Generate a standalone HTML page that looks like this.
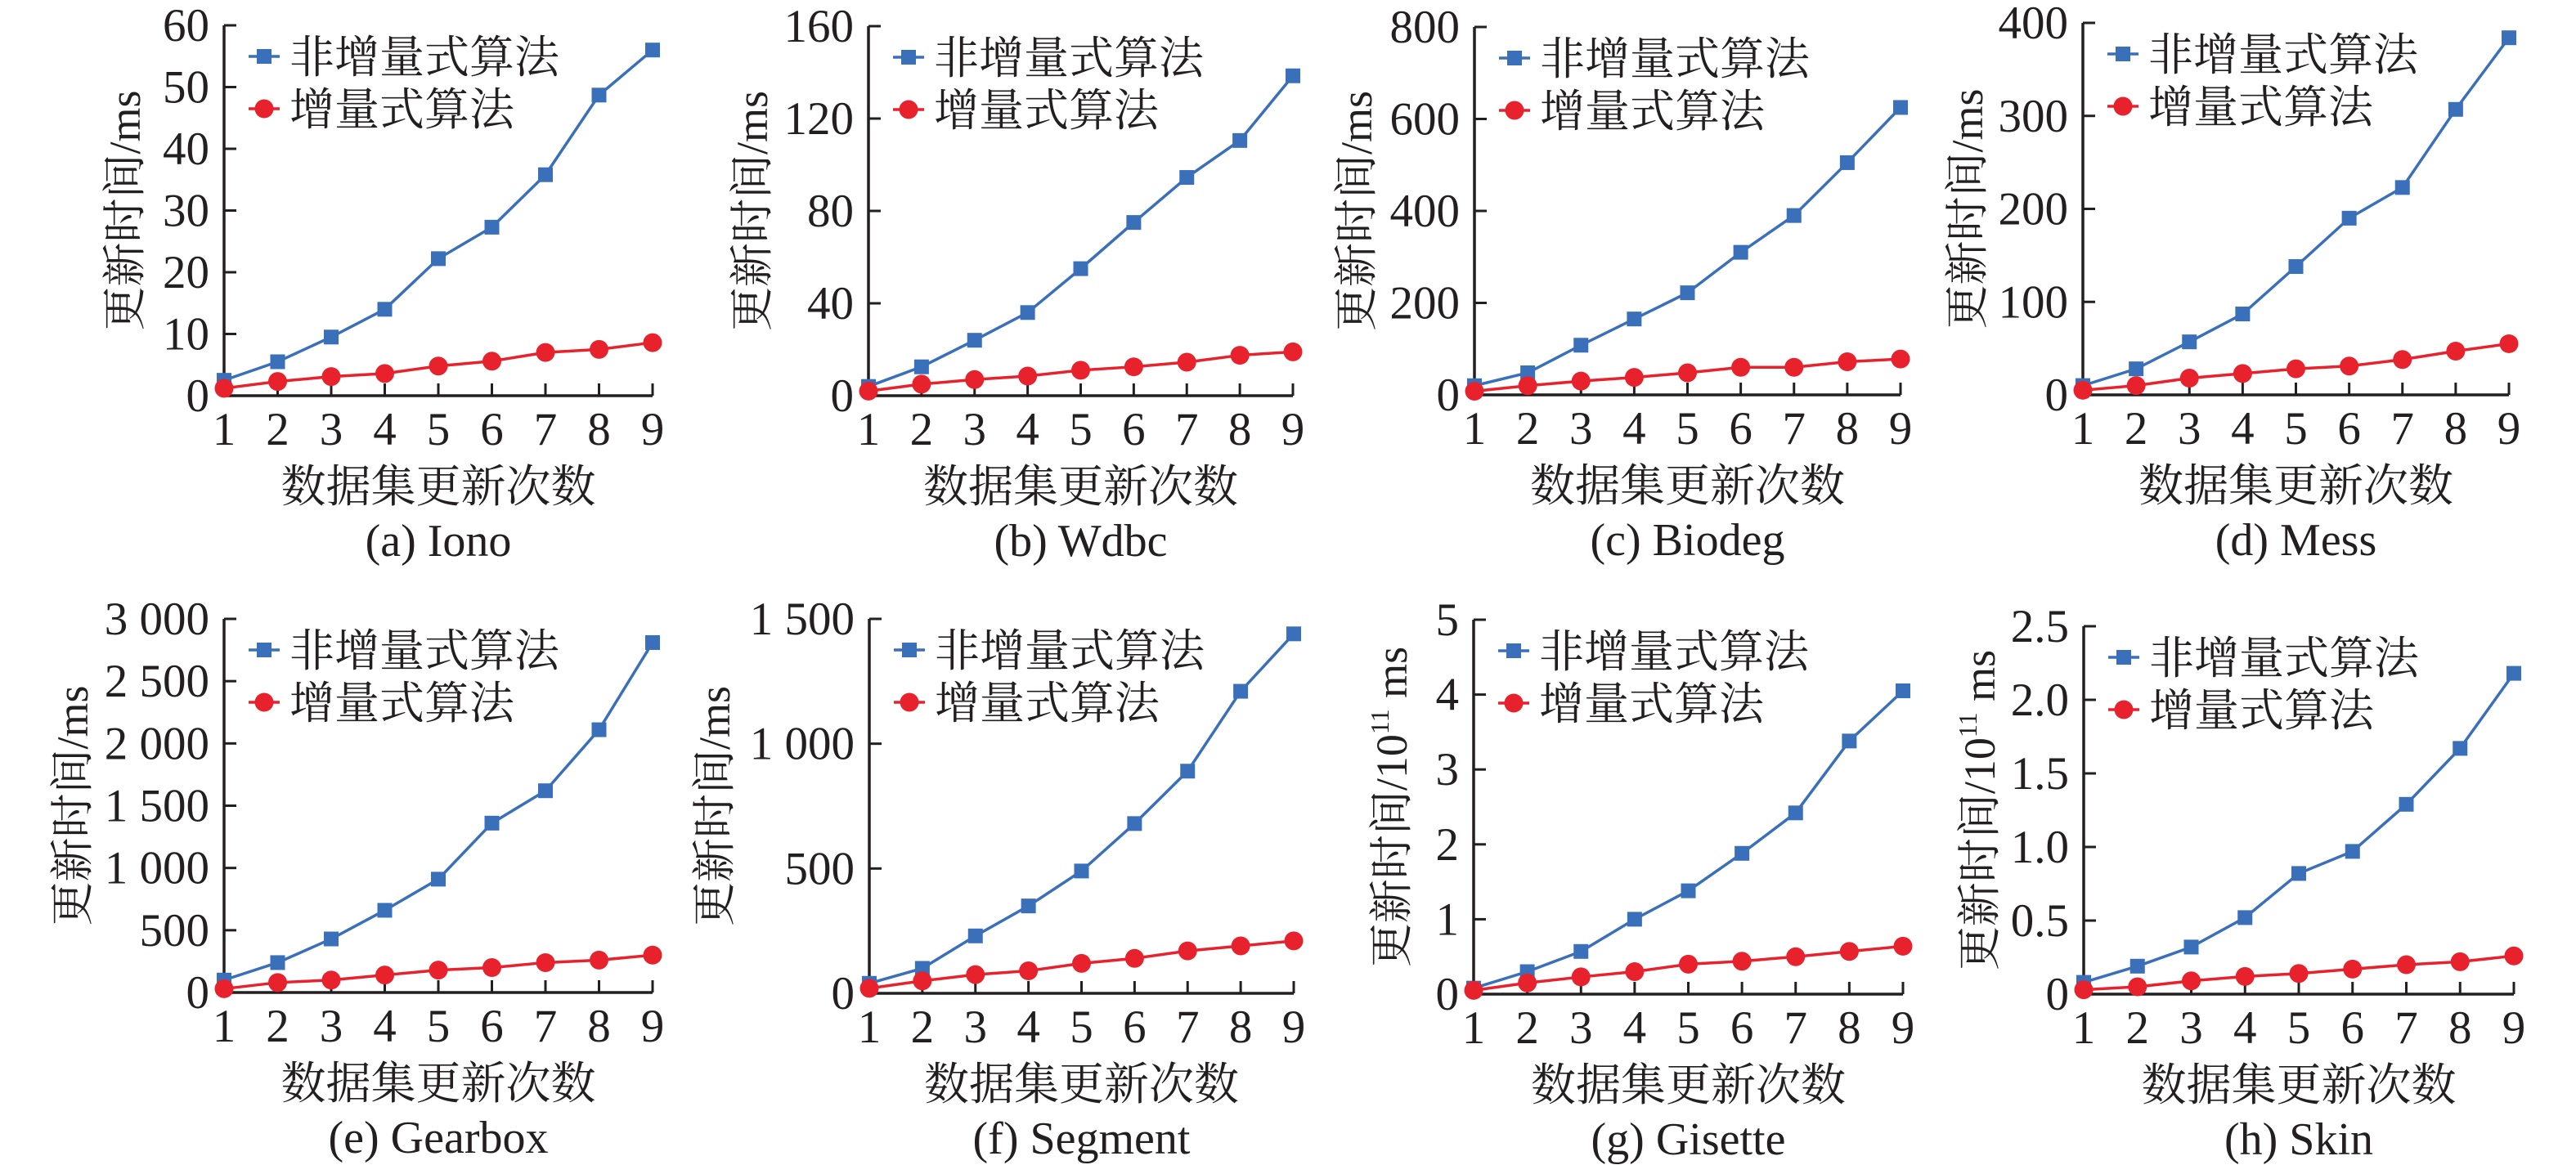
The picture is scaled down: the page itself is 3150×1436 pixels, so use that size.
<!DOCTYPE html>
<html><head><meta charset="utf-8">
<style>
html,body{margin:0;padding:0;background:#fff;}
svg{display:block;}
text{font-family:"Liberation Serif","Noto Serif CJK SC","Noto Sans CJK SC",serif;fill:#231f20;}
</style></head>
<body>
<svg id="fig" width="3150" height="1436" viewBox="0 0 3150 1436" xmlns="http://www.w3.org/2000/svg"></svg>
<script>
const categories = [1,2,3,4,5,6,7,8,9];
const nonIncA = [2.5,5.5,9.5,14,22.2,27.3,35.8,48.7,56];
const incA = [1.2,2.3,3.1,3.6,4.8,5.6,7,7.5,8.6];
const ticksA = [0,10,20,30,40,50,60];
const nonIncB = [4,12.5,24,36,55,75,94.5,110.5,138.5];
const incB = [2,5,7,8.5,11,12.5,14.5,17.5,19];
const ticksB = [0,40,80,120,160];
const nonIncC = [20,48,108,165,222,310,390,505,625];
const incC = [8,20,30,38,48,60,60,72,78];
const ticksC = [0,200,400,600,800];
const nonIncD = [10,28,57,87,138,190,223,307,384];
const incD = [5,10,18,23,28,31,38,47,55];
const ticksD = [0,100,200,300,400];
const nonIncE = [100,240,430,660,910,1360,1620,2110,2810];
const incE = [30,80,100,140,180,200,240,260,300];
const ticksE = [0,500,1000,1500,2000,2500,3000];
const tickLabelsE = ["0","500","1 000","1 500","2 000","2 500","3 000"];
const nonIncF = [40,100,230,350,490,680,890,1210,1440];
const incF = [20,50,75,90,120,140,170,190,210];
const ticksF = [0,500,1000,1500];
const tickLabelsF = ["0","500","1 000","1 500"];
const nonIncG = [0.08,0.3,0.57,1.0,1.38,1.88,2.42,3.38,4.05];
const incG = [0.05,0.15,0.23,0.3,0.4,0.44,0.5,0.57,0.64];
const ticksG = [0,1,2,3,4,5];
const nonIncH = [0.08,0.19,0.32,0.52,0.82,0.97,1.29,1.67,2.18];
const incH = [0.03,0.05,0.09,0.12,0.14,0.17,0.2,0.22,0.26];
const ticksH = [0,0.5,1.0,1.5,2.0,2.5];
const tickLabelsH = ["0","0.5","1.0","1.5","2.0","2.5"];

const NS="http://www.w3.org/2000/svg";
const FF='"Liberation Serif","Noto Serif CJK SC","Noto Sans CJK SC",serif';
const svg=document.getElementById('fig');
function mk(tag,attrs,parent){const e=document.createElementNS(NS,tag);for(const k in attrs)e.setAttribute(k,attrs[k]);if(tag==='text')e.setAttribute('font-family',FF);(parent||svg).appendChild(e);return e;}

const panels=[
 {id:'a',ox:274,x9:798,top:31,bot:484,max:60,ticks:ticksA,labels:null,blue:nonIncA,red:incA,cap:'(a) Iono',yt:-121,sci:false},
 {id:'b',ox:1062,x9:1581,top:32,bot:484,max:160,ticks:ticksB,labels:null,blue:nonIncB,red:incB,cap:'(b) Wdbc',yt:-142,sci:false},
 {id:'c',ox:1803,x9:2324,top:33,bot:483,max:800,ticks:ticksC,labels:null,blue:nonIncC,red:incC,cap:'(c) Biodeg',yt:-144,sci:false},
 {id:'d',ox:2547,x9:3068,top:28,bot:483,max:400,ticks:ticksD,labels:null,blue:nonIncD,red:incD,cap:'(d) Mess',yt:-141,sci:false},
 {id:'e',ox:274,x9:798,top:757,bot:1214,max:3000,ticks:ticksE,labels:tickLabelsE,blue:nonIncE,red:incE,cap:'(e) Gearbox',yt:-185,sci:false},
 {id:'f',ox:1063,x9:1582,top:757,bot:1215,max:1500,ticks:ticksF,labels:tickLabelsF,blue:nonIncF,red:incF,cap:'(f) Segment',yt:-189,sci:false},
 {id:'g',ox:1802,x9:2327,top:758,bot:1216,max:5,ticks:ticksG,labels:null,blue:nonIncG,red:incG,cap:'(g) Gisette',yt:-100,sci:true},
 {id:'h',ox:2548,x9:3074,top:766,bot:1216,max:2.5,ticks:ticksH,labels:tickLabelsH,blue:nonIncH,red:incH,cap:'(h) Skin',yt:-127,sci:true}
];

panels.forEach(p=>{
  const g=mk('g',{});
  
  
  const xs=i=>p.ox+(p.x9-p.ox)*(categories[i]-1)/(categories[categories.length-1]-1);
  const ys=v=>p.bot-(p.bot-p.top)*v/p.max;
  const ax=mk('path',{d:`M${p.ox} ${p.top} V${p.bot} H${p.x9}`,stroke:'#231f20','stroke-width':3.5,fill:'none'},g);
  
  
  p.ticks.forEach((t,i)=>{
    const y=ys(t);
    mk('line',{x1:p.ox,x2:p.ox+15,y1:y,y2:y,stroke:'#231f20','stroke-width':3},g);
    const tx=mk('text',{x:p.ox-18,y:y+19,'text-anchor':'end','font-size':57},g);
    tx.textContent=p.labels?p.labels[i]:String(t);
    
    
  });
  categories.forEach((c,i)=>{
    const x=xs(i);
    mk('line',{x1:x,x2:x,y1:p.bot,y2:p.bot-15,stroke:'#231f20','stroke-width':3},g);
    const tx=mk('text',{x:x,y:p.bot+60,'text-anchor':'middle','font-size':57},g);
    tx.textContent=String(c);
    
    
  });
  const series=[{vals:p.blue,color:'#3a6fb9',shape:'sq',name:'non-incremental'},{vals:p.red,color:'#e8222d',shape:'ci',name:'incremental'}];
  series.forEach(s=>{
    const pts=s.vals.map((v,i)=>xs(i)+','+ys(v)).join(' ');
    const pl=mk('polyline',{points:pts,stroke:s.color,'stroke-width':3.5,fill:'none'},g);
    
    
    s.vals.forEach((v,i)=>{
      let m;
      if(s.shape==='sq') m=mk('rect',{x:xs(i)-9,y:ys(v)-9,width:18,height:18,fill:s.color},g);
      else m=mk('circle',{cx:xs(i),cy:ys(v),r:11.5,fill:s.color},g);
      
      
    });
  });
  const ly1=p.top+38, ly2=p.top+102;
  const lx=p.ox+30;
  const leg=mk('g',{},g);
  
  
  mk('line',{x1:lx,x2:lx+38,y1:ly1,y2:ly1,stroke:'#3a6fb9','stroke-width':3.5},leg);
  mk('rect',{x:lx+10,y:ly1-9,width:18,height:18,fill:'#3a6fb9'},leg);
  const t1=mk('text',{x:lx+50,y:ly1+20,'font-size':55},leg);
  t1.textContent='非增量式算法';
  
  
  mk('line',{x1:lx,x2:lx+38,y1:ly2,y2:ly2,stroke:'#e8222d','stroke-width':3.5},leg);
  mk('circle',{cx:lx+19,cy:ly2,r:11.5,fill:'#e8222d'},leg);
  const t2=mk('text',{x:lx+50,y:ly2+20,'font-size':55},leg);
  t2.textContent='增量式算法';
  
  
  const cy=(p.top+p.bot)/2, cx=p.ox+p.yt;
  const yt=mk('text',{x:0,y:0,'text-anchor':'middle','font-size':54,transform:`translate(${cx+18},${cy}) rotate(-90)`},g);
  
  
  if(p.sci){
    const a=mk('tspan',{},yt);a.textContent='更新时间/10';
    const b=mk('tspan',{dy:-22,'font-size':32},yt);b.textContent='11';
    const c=mk('tspan',{dy:22},yt);c.textContent=' ms';
  } else yt.textContent='更新时间/ms';
  const xt=mk('text',{x:(p.ox+p.x9)/2,y:p.bot+130,'text-anchor':'middle','font-size':55},g);
  xt.textContent='数据集更新次数';
  
  
  const cp=mk('text',{x:(p.ox+p.x9)/2,y:p.bot+196,'text-anchor':'middle','font-size':56},g);
  cp.textContent=p.cap;
  
  
});
</script>
</body></html>
